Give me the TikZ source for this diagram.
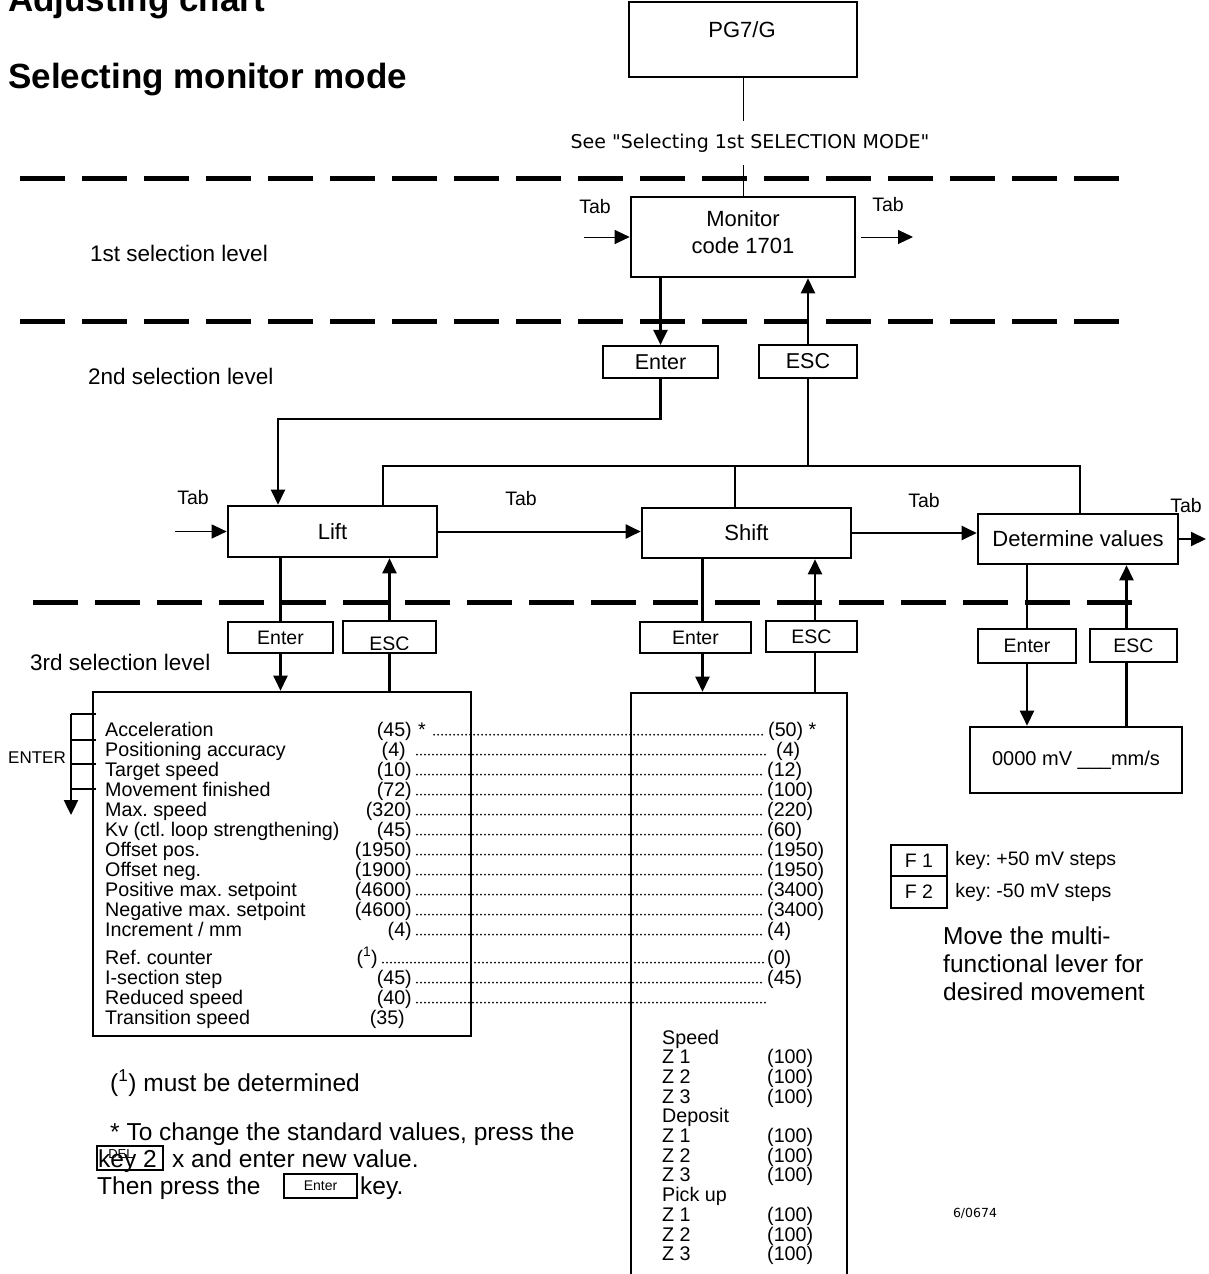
\documentclass[tikz,border=0pt]{standalone}
\usepackage{fontspec}
\setmainfont{Liberation Sans}
\newfontfamily\verdfont{DejaVu Sans}
\usetikzlibrary{arrows.meta,positioning,calc}
\newcommand{\fsz}[1]{\fontsize{#1}{#1}\selectfont}
\frenchspacing

\begin{document}
\begin{tikzpicture}[x=1pt, y=-1pt,
    box/.style={rectangle, draw, line width=2.6pt, inner sep=0pt, font=\fsz{22}},
    keybox/.style={box, line width=2.2pt, font=\fsz{19.5}},
    lbl/.style={inner sep=0pt, font=\fsz{19.5}},
    row/.style={inner sep=0pt, font=\fsz{19.7}},
    note/.style={inner sep=0pt, font=\fsz{24.5}, anchor=base west},
    conn/.style={line width=2.4pt},
    arrow/.style={-{Triangle[length=15pt,width=14pt]}, line width=2.4pt},
    tabarrow/.style={arrow, line width=1pt},
    sepline/.style={line width=5pt, dash pattern=on 45pt off 17pt},
    dotline/.style={line width=2pt, line cap=round, dash pattern=on 0pt off 4pt},
    thinline/.style={line width=1pt}
]
\useasboundingbox (0,0) rectangle (1208,1274);

% headings
\node[anchor=base west, inner sep=0pt, font=\bfseries\fsz{35}] (title) at (8,12) {Adjusting chart};
\node[anchor=base west, inner sep=0pt, font=\bfseries\fsz{35}] (subtitle) at (8,88) {Selecting monitor mode};

% selection levels
\draw[sepline] (20,178) -- (1125,178);
\draw[sepline] (20,321) -- (1130,321);
\draw[sepline] (33,602) -- (1135,602);
\node[lbl, font=\fsz{22.5}, anchor=west] (lev1) at (90,253) {1st selection level};
\node[lbl, font=\fsz{22.5}, anchor=west] (lev2) at (88,376) {2nd selection level};
\node[lbl, font=\fsz{22.5}, anchor=west] (lev3) at (30,662) {3rd selection level};

% top and 1st level
\node[box, minimum width=228pt, minimum height=75pt] (pg) at (743,39.5) {};
\node[lbl, font=\fsz{22}] (pgtxt) at (742,30) {PG7/G};
\node[inner xsep=0pt, inner ysep=13pt, font=\verdfont\fsz{19}] (see) at (750,143) {See "Selecting 1st SELECTION MODE"};
\node[box, minimum width=224pt, minimum height=80pt, align=center, font=\fontsize{22}{27}\selectfont] (mon) at (743,237) {Monitor\\code 1701\\[-17pt]};
\draw[thinline] (pg.south) -- (pg.south |- see.north);
\draw[thinline] (see.south -| mon.north) -- (mon.north);

\coordinate (tabin1) at (584,237);
\coordinate (tabout1) at (913,237);
\draw[tabarrow] (tabin1) -- (mon.west);
\draw[tabarrow] ([xshift=5pt]mon.east) -- (tabout1);
\node[lbl] (tabl1) at (595,207) {Tab};
\node[lbl] (tabr1) at (888,205) {Tab};

% 2nd level
\node[keybox, font=\fsz{21.5}, minimum width=115pt, minimum height=32pt] (enter1) at (660.5,362) {Enter};
\node[keybox, font=\fsz{21.5}, minimum width=98pt, minimum height=33pt] (esc1) at (808,361.5) {ESC};
\draw[arrow] (mon.south -| enter1.north) -- (enter1.north);
\draw[arrow] (esc1.north) -- (esc1.north |- mon.south);

\node[box, minimum width=209pt, minimum height=51pt] (lift) at (332.5,531.5) {Lift};
\node[box, minimum width=209pt, minimum height=50pt] (shift) at (746.5,533) {Shift};
\node[box, minimum width=200pt, minimum height=50pt] (detv) at (1078,539) {Determine values};

\draw[arrow] (enter1.south) -- ++(0,40) -| ([xshift=-54.5pt]lift.north);
\coordinate (bus) at (808,466);
\draw[conn] (esc1.south) -- (bus);
\draw[conn] ([xshift=50.5pt]lift.north) |- (bus) -| ([xshift=2pt]detv.north);
\draw[conn] ([xshift=-11.5pt]shift.north) |- (bus);

\coordinate (tabin2) at (175,531.5);
\coordinate (tabout2) at (1206,539);
\draw[tabarrow] (tabin2) -- (lift.west);
\draw[arrow, line width=2pt] (lift.east) -- (lift.east -| shift.west);
\draw[arrow, line width=2pt] (shift.east) -- (shift.east -| detv.west);
\draw[arrow, line width=2pt] (detv.east) -- (tabout2);
\node[lbl] (tabl2) at (193,498) {Tab};
\node[lbl] (tabl3) at (521,499) {Tab};
\node[lbl] (tabl4) at (924,501) {Tab};
\node[lbl] (tabr2) at (1186,506) {Tab};

% 3rd level keys
\node[keybox, minimum width=105pt, minimum height=31pt] (enter2) at (280.5,637.5) {Enter};
\node[keybox, minimum width=93pt, minimum height=32pt] (esc2) at (389.5,637) {};
\begin{scope}
  \clip (esc2.north west) rectangle ([yshift=5pt]esc2.south east);
  \node[lbl] (esc2txt) at ([yshift=-7pt]esc2.center) {ESC};
\end{scope}
\node[keybox, minimum width=111pt, minimum height=31pt] (enter3) at (695.5,637.5) {Enter};
\node[keybox, minimum width=91pt, minimum height=31pt] (esc3) at (811.5,636.5) {ESC};
\node[keybox, minimum width=98pt, minimum height=34pt] (enter4) at (1027,646) {Enter};
\node[keybox, minimum width=87pt, minimum height=33pt] (esc4) at (1133.5,645.5) {ESC};

\node[box, minimum width=378pt, minimum height=344pt] (lbox) at (282,864) {};
\node[box, minimum width=216pt, minimum height=600pt] (rbox) at (739,993) {};
\node[box, font=\fsz{20}, minimum width=212pt, minimum height=66pt] (mvbox) at (1076,760) {0000 mV \_\_\_mm/s};

\draw[conn] (lift.south -| enter2.north) -- (enter2.north);
\draw[arrow] (enter2.south) -- (enter2.south |- lbox.north);
\draw[arrow] (esc2.north) -- (esc2.north |- lift.south);
\draw[conn] (esc2.south) -- (esc2.south |- lbox.north);

\draw[conn] ($(shift.south -| enter3.north)+(7,0)$) -- ($(enter3.north)+(7,0)$);
\draw[arrow] ($(enter3.south)+(7,0)$) -- ($(enter3.south |- rbox.north)+(7,0)$);
\draw[arrow] ($(esc3.north)+(3.5,0)$) -- ($(esc3.north |- shift.south)+(3.5,0)$);
\draw[conn] ($(esc3.south)+(3.5,0)$) -- ($(esc3.south |- rbox.north)+(3.5,0)$);

\draw[conn] (detv.south -| enter4.north) -- (enter4.north);
\draw[arrow] (enter4.south) -- (enter4.south |- mvbox.north);
\draw[arrow] ($(esc4.north)+(-7,0)$) -- ($(esc4.north |- detv.south)+(-7,0)$);
\draw[conn] ($(esc4.south)+(-7,0)$) -- ($(esc4.south |- mvbox.north)+(-7,0)$);

% ENTER steps
\node[lbl, font=\fsz{17}, anchor=west] (enterlbl) at (8,758) {ENTER};
\coordinate (entop) at (71,714);
\coordinate (enbot) at (71,815);
\draw[arrow] (entop) -- (enbot);
\foreach \y in {714,740,764,789}
  \draw[conn] (71,\y) -- (96,\y);

% parameter rows
\node[row, anchor=base west] (l729) at (105,736) {Acceleration};
\node[row, anchor=base east] (v729) at (412,736) {(45)};
\node[row, anchor=base west] (s729) at (418,736) {*};
\node[row, anchor=base west] (r729) at (768,736) {(50) *};
\draw[dotline] ([xshift=8pt,yshift=1.3pt]s729.base east) -- ([xshift=-3pt,yshift=1.3pt]r729.base west);

\node[row, anchor=base west] (l749) at (105,756) {Positioning accuracy};
\node[row, anchor=base east] (v749) at (406,756) {(4)};
\node[row, anchor=base west] (r749) at (776,756) {(4)};
\draw[dotline] ([xshift=11pt,yshift=1.3pt]v749.base east) -- ([xshift=-11pt,yshift=1.3pt]r749.base west);

\foreach \yc/\lab/\lv/\rv in {769/Target speed/10/12, 789/Movement finished/72/100,
    809/Max. speed/320/220, 829/Kv (ctl. loop strengthening)/45/60,
    849/Offset pos./1950/1950, 869/Offset neg./1900/1950,
    889/Positive max. setpoint/4600/3400, 909/Negative max. setpoint/4600/3400,
    929/{Increment / mm}/4/4, 977/I-section step/45/45}{
  \node[row, anchor=base west] (l\yc) at (105,\yc+7) {\lab};
  \node[row, anchor=base east] (v\yc) at (412,\yc+7) {(\lv)};
  \node[row, anchor=base west] (r\yc) at (767,\yc+7) {(\rv)};
  \draw[dotline] ([xshift=5pt,yshift=1.3pt]v\yc.base east) -- ([xshift=-3pt,yshift=1.3pt]r\yc.base west);
}

\node[row, anchor=base west] (l957) at (105,964) {Ref. counter};
\node[row, anchor=base east] (v957) at (378,964) {(\textsuperscript{1})};
\node[row, anchor=base west] (r957) at (767,964) {(0)};
\draw[dotline] ([xshift=5pt,yshift=1.3pt]v957.base east) -- ([xshift=-3pt,yshift=1.3pt]r957.base west);

\node[row, anchor=base west] (l997) at (105,1004) {Reduced speed};
\node[row, anchor=base east] (v997) at (412,1004) {(40)};
\coordinate (reddots) at (765,1002.7);
\draw[dotline] ([xshift=5pt,yshift=1.3pt]v997.base east) -- (reddots);

\node[row, anchor=base west] (l1017) at (105,1024) {Transition speed};
\node[row, anchor=base east] (v1017) at (405,1024) {(35)};

% zone values
\foreach \grp [count=\g from 0] in {Speed,Deposit,Pick up}{
  \node[row, anchor=base west] (grp\g) at (662,{1044+78.8*\g}) {\grp};
  \foreach \z in {1,2,3}{
    \node[row, anchor=base west] (z\g\z) at (662,{1044+78.8*\g+19.7*\z}) {Z \z};
    \node[row, anchor=base west] (zv\g\z) at (767,{1044+78.8*\g+19.7*\z}) {(100)};
  }
}

% function keys
\node[keybox, minimum width=56pt, minimum height=31pt] (f1) at (919,860.5) {F 1};
\node[keybox, minimum width=56pt, minimum height=32pt] (f2) at (919,892) {F 2};
\node[lbl, anchor=west, right=7pt of f1] (f1txt) {key: +50 mV steps};
\node[lbl, anchor=west, right=7pt of f2] (f2txt) {key: -50 mV steps};
\node[inner sep=0pt, anchor=north west, align=left, font=\fontsize{24.5}{28}\selectfont] (movetxt) at (943,927) {Move the multi-\\functional lever for\\desired movement};

% notes
\node[note] (note1) at (110,1091) {(\textsuperscript{1}) must be determined};
\node[note] (note2) at (110,1140) {* To change the standard values, press the};
\node[note] (keytxt) at (98,1167) {key 2};
\node[keybox, line width=2pt, minimum width=66pt, minimum height=24pt] (delkey) at (130,1158) {};
\node[inner sep=0pt, font=\fsz{13}] (deltxt) at (121,1154) {DEL};
\node[note] (note3) at (172,1167) {x and enter new value.};
\node[note] (note4) at (97,1194) {Then press the};
\node[keybox, line width=2pt, font=\fsz{14}, minimum width=73pt, minimum height=24pt] (enterkey) at (320.5,1186) {Enter};
\node[note] (note5) at (360,1194) {key.};

\node[inner sep=0pt, font=\verdfont\fsz{12.5}] (docnr) at (975,1213) {6/0674};
\end{tikzpicture}
\end{document}
